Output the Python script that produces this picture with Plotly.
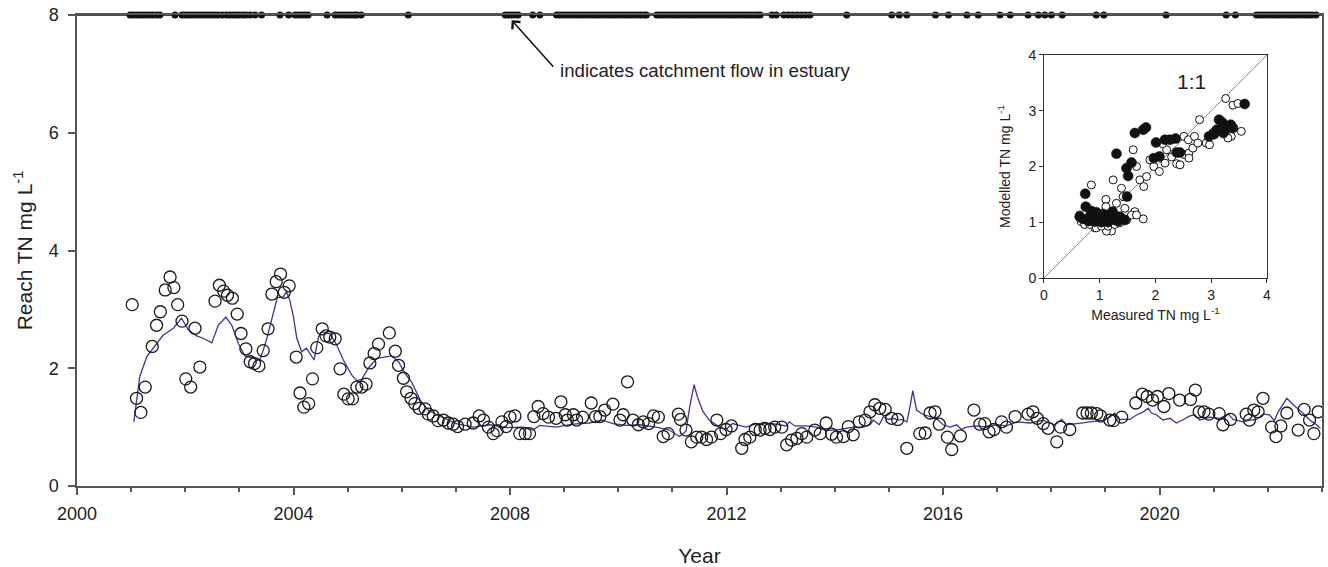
import plotly.graph_objects as go

# ---------------- data ----------------
flow_dates = [
    2000.98, 2001.04, 2001.10, 2001.16, 2001.22, 2001.28, 2001.34, 2001.40, 2001.47, 2001.53,
    2001.81,
    2001.94, 2002.00, 2002.06, 2002.12, 2002.18, 2002.24, 2002.30, 2002.36, 2002.42, 2002.48,
    2002.54, 2002.60, 2002.68,
    2002.76, 2002.82, 2002.88, 2002.94, 2003.00, 2003.06, 2003.12, 2003.20,
    2003.29, 2003.41, 2003.75,
    2003.91, 2004.03, 2004.09, 2004.15, 2004.21, 2004.27,
    2004.62,
    2004.77, 2004.83, 2004.89, 2004.95, 2005.01, 2005.07, 2005.13, 2005.17,
    2005.25, 2006.12,
    2007.91, 2007.97, 2008.03, 2008.09, 2008.15,
    2008.42, 2008.55,
    2008.86, 2008.92, 2008.98, 2009.04, 2009.10, 2009.16, 2009.22, 2009.28, 2009.34, 2009.40,
    2009.46, 2009.52, 2009.58, 2009.64, 2009.70, 2009.76, 2009.82, 2009.88, 2009.94, 2010.00,
    2010.06, 2010.12, 2010.18, 2010.24, 2010.30, 2010.36, 2010.42, 2010.48, 2010.52,
    2010.71, 2010.77, 2010.83, 2010.89, 2010.95, 2011.01, 2011.07, 2011.13, 2011.19, 2011.25,
    2011.31, 2011.37, 2011.43, 2011.49, 2011.55, 2011.61, 2011.67, 2011.73, 2011.79, 2011.85,
    2011.91, 2011.97, 2012.03, 2012.09, 2012.15, 2012.21, 2012.27, 2012.33, 2012.39, 2012.45,
    2012.51, 2012.57, 2012.62,
    2012.84, 2012.92, 2013.06, 2013.14, 2013.22, 2013.30, 2013.38, 2013.46, 2013.54,
    2014.22,
    2015.05, 2015.19, 2015.33,
    2015.86, 2016.10,
    2016.44, 2016.65,
    2017.05, 2017.24,
    2017.57,
    2017.76, 2017.88, 2018.00, 2018.20,
    2018.83, 2018.97,
    2020.12,
    2021.23, 2021.40,
    2021.79, 2021.85, 2021.91, 2021.97, 2022.03, 2022.09, 2022.15, 2022.21, 2022.27, 2022.33,
    2022.39, 2022.45, 2022.51, 2022.57, 2022.63, 2022.69, 2022.75, 2022.81, 2022.89,
]
flow_level = 8

model_year = [
    2001.05, 2001.16, 2001.29, 2001.44, 2001.59, 2001.78, 2001.93, 2002.06, 2002.21, 2002.33,
    2002.49, 2002.61, 2002.75, 2002.86, 2002.98, 2003.10, 2003.26, 2003.38, 2003.50, 2003.63,
    2003.70, 2003.81, 2003.87, 2003.93, 2004.00, 2004.06, 2004.15, 2004.24, 2004.38, 2004.46,
    2004.52, 2004.67, 2004.80, 2004.92, 2005.08, 2005.17, 2005.26, 2005.38, 2005.54, 2005.81,
    2005.94, 2006.06, 2006.18, 2006.34, 2006.49, 2006.71, 2007.01,
    2007.32, 2007.63, 2007.93, 2008.24, 2008.42, 2008.55, 2008.85, 2009.16, 2009.46, 2009.71,
    2009.90, 2010.14, 2010.39, 2010.70, 2010.94, 2011.13, 2011.25, 2011.32, 2011.40, 2011.46,
    2011.56, 2011.68, 2011.87, 2011.99, 2012.11, 2012.36, 2012.55, 2012.85, 2013.10, 2013.16,
    2013.26, 2013.48, 2013.66, 2013.84, 2014.09, 2014.34, 2014.52,
    2014.65, 2014.71, 2014.82, 2014.90, 2014.99, 2015.08, 2015.17, 2015.23, 2015.33, 2015.39,
    2015.44, 2015.51, 2015.64, 2015.79, 2015.91, 2016.00, 2016.13, 2016.25, 2016.34, 2016.43,
    2016.62, 2016.80, 2016.99, 2017.17, 2017.36, 2017.61, 2017.85, 2017.98, 2018.07, 2018.19,
    2018.28, 2018.47, 2018.71, 2018.96, 2019.08, 2019.17, 2019.24, 2019.45, 2019.58, 2019.70,
    2019.79, 2019.85, 2019.94, 2020.06, 2020.19, 2020.31, 2020.44, 2020.56, 2020.65, 2020.74,
    2020.93, 2021.11, 2021.27, 2021.36, 2021.55, 2021.67, 2021.79, 2021.91, 2022.03, 2022.12,
    2022.19, 2022.25, 2022.35, 2022.47, 2022.59, 2022.68, 2022.77, 2022.87, 2022.97,
]
model_tn = [
    1.09, 1.86, 2.20, 2.39, 2.56, 2.68, 2.85, 2.65, 2.55, 2.51,
    2.43, 2.73, 2.87, 2.73, 2.42, 2.21, 2.17, 2.14, 2.48, 2.93,
    3.20, 3.21, 3.30, 3.16, 2.87, 2.51, 2.28, 2.34, 2.14, 2.53,
    2.62, 2.59, 2.39, 2.14, 1.88, 1.79, 1.81, 2.00, 2.17, 2.21,
    2.11, 1.91, 1.77, 1.46, 1.29, 1.18, 1.06,
    1.00, 1.04, 0.99, 1.00, 0.95, 1.03, 1.00, 1.05, 1.07, 1.12,
    1.06, 1.03, 1.04, 1.00, 0.95, 0.84, 0.93, 1.35, 1.72, 1.52,
    1.27, 1.12, 1.00, 0.96, 1.06, 1.00, 1.06, 1.06, 1.02, 1.09,
    1.02, 1.02, 1.00, 0.94, 0.96, 1.00, 1.00,
    1.04, 1.12, 1.04, 1.18, 1.13, 1.15, 1.12, 1.13, 1.09, 1.35,
    1.62, 1.29, 1.21, 1.17, 1.12, 1.04, 1.00, 1.04, 0.96, 1.00,
    1.02, 1.00, 1.04, 1.02, 1.09, 1.07, 1.12, 1.07, 1.04, 1.13,
    1.04, 1.06, 1.09, 1.12, 1.17, 1.24, 1.13, 1.13, 1.21, 1.26,
    1.32, 1.24, 1.21, 1.12, 1.15, 1.07, 1.13, 1.19, 1.21, 1.12,
    1.17, 1.15, 1.22, 1.13, 1.09, 1.12, 1.13, 1.22, 1.21, 1.11,
    1.26, 1.35, 1.49, 1.38, 1.29, 1.21, 1.12, 1.06, 0.98,
]

obs_year = [
    2001.02, 2001.10, 2001.18, 2001.26, 2001.39, 2001.47, 2001.54, 2001.63, 2001.72, 2001.79,
    2001.86, 2001.94, 2002.01, 2002.10, 2002.18, 2002.27, 2002.55, 2002.63, 2002.71, 2002.78,
    2002.87, 2002.96, 2003.03, 2003.12, 2003.20, 2003.28, 2003.36, 2003.44, 2003.53, 2003.60,
    2003.68, 2003.76, 2003.83, 2003.92, 2004.05, 2004.12, 2004.19, 2004.28, 2004.35, 2004.43,
    2004.53, 2004.60, 2004.67, 2004.77, 2004.86, 2004.93, 2005.01, 2005.09, 2005.17, 2005.26,
    2005.34, 2005.41, 2005.49, 2005.57, 2005.77, 2005.88, 2005.94, 2006.03, 2006.09, 2006.17,
    2006.24, 2006.32, 2006.43, 2006.49, 2006.58, 2006.67, 2006.77, 2006.86, 2006.95, 2007.03,
    2007.17, 2007.32, 2007.43, 2007.51, 2007.60, 2007.69, 2007.76, 2007.85, 2007.93, 2008.00,
    2008.09, 2008.18, 2008.28, 2008.36, 2008.44, 2008.52, 2008.61, 2008.71, 2008.85, 2008.94,
    2009.02, 2009.06, 2009.17, 2009.23, 2009.34, 2009.50, 2009.58, 2009.66, 2009.75, 2009.90,
    2010.03, 2010.09, 2010.17, 2010.27, 2010.37, 2010.46, 2010.56, 2010.65, 2010.74, 2010.83,
    2010.92, 2011.11, 2011.15, 2011.25, 2011.35, 2011.45, 2011.54, 2011.63, 2011.72, 2011.82,
    2011.89, 2011.99, 2012.09, 2012.28, 2012.34, 2012.43, 2012.53, 2012.62, 2012.71, 2012.80,
    2012.89, 2013.02, 2013.11, 2013.20, 2013.30, 2013.39, 2013.48, 2013.63, 2013.73, 2013.84,
    2013.94, 2014.03, 2014.16, 2014.25, 2014.34, 2014.45, 2014.56, 2014.65, 2014.74, 2014.83,
    2014.93, 2015.05, 2015.16, 2015.33, 2015.57, 2015.67, 2015.76, 2015.85, 2015.93, 2016.08,
    2016.16, 2016.32, 2016.57, 2016.68, 2016.77, 2016.85, 2016.94, 2017.08, 2017.17, 2017.33,
    2017.57, 2017.66, 2017.74, 2017.85, 2017.94, 2018.10, 2018.17, 2018.34, 2018.58, 2018.66,
    2018.74, 2018.84, 2018.91, 2019.08, 2019.15, 2019.30, 2019.56, 2019.68, 2019.77, 2019.87,
    2019.96, 2020.08, 2020.17, 2020.37, 2020.57, 2020.66, 2020.73, 2020.82, 2020.91, 2021.10,
    2021.17, 2021.31, 2021.60, 2021.66, 2021.74, 2021.82, 2021.91, 2022.07, 2022.15, 2022.24,
    2022.35, 2022.56, 2022.67, 2022.77, 2022.85, 2022.93,
]
obs_tn = [
    3.08, 1.49, 1.25, 1.68, 2.37, 2.73, 2.96, 3.33, 3.55, 3.37,
    3.08, 2.80, 1.82, 1.68, 2.68, 2.02, 3.14, 3.41, 3.31, 3.24,
    3.19, 2.92, 2.59, 2.33, 2.11, 2.08, 2.04, 2.30, 2.67, 3.26,
    3.47, 3.60, 3.29, 3.40, 2.19, 1.58, 1.34, 1.40, 1.82, 2.35,
    2.67, 2.55, 2.53, 2.50, 1.99, 1.56, 1.48, 1.48, 1.68, 1.68,
    1.73, 2.09, 2.25, 2.41, 2.60, 2.29, 2.05, 1.83, 1.60, 1.49,
    1.40, 1.32, 1.31, 1.22, 1.19, 1.11, 1.12, 1.07, 1.05, 1.01,
    1.05, 1.07, 1.19, 1.12, 1.00, 0.89, 0.94, 1.09, 1.01, 1.17,
    1.19, 0.89, 0.89, 0.89, 1.18, 1.35, 1.23, 1.17, 1.15, 1.43,
    1.21, 1.12, 1.21, 1.12, 1.17, 1.41, 1.18, 1.18, 1.29, 1.39,
    1.12, 1.21, 1.77, 1.12, 1.04, 1.09, 1.06, 1.19, 1.17, 0.84,
    0.89, 1.22, 1.13, 0.95, 0.75, 0.83, 0.83, 0.79, 0.83, 1.12,
    0.89, 0.96, 1.02, 0.64, 0.79, 0.83, 0.96, 0.95, 0.98, 0.96,
    1.00, 1.00, 0.70, 0.78, 0.81, 0.89, 0.83, 0.95, 0.89, 1.07,
    0.88, 0.83, 0.84, 1.01, 0.87, 1.09, 1.12, 1.26, 1.38, 1.32,
    1.30, 1.15, 1.13, 0.64, 0.89, 0.90, 1.24, 1.26, 1.05, 0.83,
    0.62, 0.85, 1.29, 1.05, 1.06, 0.92, 0.96, 1.09, 1.00, 1.18,
    1.22, 1.26, 1.15, 1.06, 0.98, 0.75, 1.00, 0.96, 1.24, 1.24,
    1.24, 1.23, 1.19, 1.12, 1.11, 1.17, 1.41, 1.56, 1.52, 1.46,
    1.52, 1.35, 1.57, 1.46, 1.47, 1.63, 1.26, 1.26, 1.22, 1.23,
    1.04, 1.13, 1.22, 1.12, 1.29, 1.26, 1.49, 1.00, 0.84, 1.02,
    1.24, 0.95, 1.30, 1.12, 0.89, 1.26,
]

# inset: measured vs modelled (open = no catchment flow, filled = catchment flow)
open_measured = [
    0.85, 1.11, 1.00, 0.91, 1.21, 1.12, 1.24, 1.39, 1.60, 1.66, 1.72, 1.79, 1.63, 1.78, 1.45,
    1.84, 1.90, 1.97, 2.07, 2.17, 2.29, 2.38, 2.44, 2.53, 2.60, 2.60, 2.67, 2.51, 2.59, 2.70,
    2.76, 2.79, 2.91, 2.97, 3.03, 3.26, 3.39, 3.36, 3.54, 3.30, 3.48, 2.20, 2.13, 0.67, 0.73,
    0.82, 0.94, 1.03, 1.15, 1.27, 1.36, 1.48, 1.57, 1.11, 1.30, 0.97, 0.64, 1.42, 1.66,
]
open_modelled = [
    1.67, 1.41, 0.99, 0.90, 0.84, 0.84, 1.76, 1.61, 2.30, 2.00, 1.76, 1.64, 1.19, 1.06, 1.25,
    1.82, 2.12, 2.00, 1.91, 2.06, 2.17, 2.05, 2.03, 2.21, 2.24, 2.15, 2.33, 2.54, 2.48, 2.54,
    2.42, 2.84, 2.42, 2.39, 2.61, 3.22, 3.10, 2.54, 2.63, 2.51, 3.13, 2.30, 2.41, 1.01, 0.96,
    0.96, 0.90, 0.93, 0.93, 0.96, 0.99, 1.04, 1.13, 1.28, 1.34, 1.16, 1.13, 1.46, 1.13,
]
filled_measured = [
    0.64, 0.70, 0.75, 0.74, 0.80, 0.82, 0.85, 0.88, 0.91, 0.94, 0.97, 1.00, 1.03, 1.06, 1.09,
    1.12, 1.15, 1.18, 1.21, 1.23, 1.27, 1.30, 1.33, 1.36, 1.40, 1.45, 1.49, 1.30, 1.48, 1.51,
    1.57, 1.63, 1.83, 1.78, 1.97, 2.07, 2.01, 2.17, 2.26, 2.36, 2.44, 2.38, 2.96, 3.05, 3.10,
    3.14, 3.20, 3.22, 3.27, 3.30, 3.35, 3.39, 3.60,
]
filled_modelled = [
    1.10, 1.06, 1.28, 1.51, 1.02, 1.10, 1.20, 1.05, 1.01, 1.18, 1.08, 1.10, 1.00, 1.15, 1.04,
    1.08, 1.00, 1.13, 1.06, 1.19, 1.04, 1.10, 1.02, 1.10, 1.06, 1.04, 1.46, 2.23, 1.97, 1.83,
    2.07, 2.60, 2.70, 2.66, 2.15, 2.18, 2.43, 2.48, 2.48, 2.50, 2.25, 2.25, 2.54, 2.58, 2.66,
    2.84, 2.79, 2.60, 2.72, 2.70, 2.75, 2.69, 3.12,
]
one_to_one = [0, 4]

# ---------------- figure ----------------
FONT = "Liberation Sans, Arial, sans-serif"
TXT = "#222222"
AX = "#555555"

fig = go.Figure()

fig.add_trace(go.Scatter(
    x=[2000, 2023], y=[flow_level, flow_level], mode="lines",
    line=dict(color="#111111", width=1.6), hoverinfo="skip", showlegend=False,
    cliponaxis=False,
))
fig.add_trace(go.Scatter(
    x=flow_dates, y=[flow_level] * len(flow_dates), mode="markers",
    marker=dict(color="#111111", size=7, line=dict(width=0)),
    showlegend=False, cliponaxis=False,
))
fig.add_trace(go.Scatter(
    x=model_year, y=model_tn, mode="lines",
    line=dict(color="#3f3596", width=1.3), showlegend=False,
))
fig.add_trace(go.Scatter(
    x=obs_year, y=obs_tn, mode="markers",
    marker=dict(symbol="circle-open", size=12, color="#1a1a1a", line=dict(width=1.3)),
    showlegend=False,
))

# inset
fig.add_trace(go.Scatter(
    x=one_to_one, y=one_to_one, mode="lines", xaxis="x2", yaxis="y2",
    line=dict(color="#666666", width=0.8), showlegend=False,
))
fig.add_trace(go.Scatter(
    x=open_measured, y=open_modelled, mode="markers", xaxis="x2", yaxis="y2",
    marker=dict(symbol="circle", size=8, color="white", line=dict(color="#111111", width=1)),
    showlegend=False,
))
fig.add_trace(go.Scatter(
    x=filled_measured, y=filled_modelled, mode="markers", xaxis="x2", yaxis="y2",
    marker=dict(symbol="circle", size=10, color="#111111", line=dict(color="#111111", width=0.5)),
    showlegend=False,
))

fig.update_layout(
    width=1328, height=567,
    margin=dict(l=77, r=6, t=15, b=81, autoexpand=False),
    paper_bgcolor="white", plot_bgcolor="white",
    font=dict(family=FONT, color=TXT),
    xaxis=dict(
        domain=[0, 1], range=[2000, 2023], tick0=2000, dtick=4, automargin=False,
        ticks="outside", ticklen=7, tickwidth=1.5, tickcolor=AX,
        showline=True, linecolor=AX, linewidth=1.5, mirror=True,
        showgrid=False, zeroline=False,
        tickfont=dict(size=18, family=FONT, color=TXT), ticklabelstandoff=4,
        minor=dict(dtick=1, tick0=2000, ticks="outside", ticklen=4, tickwidth=1.5,
                   tickcolor=AX, showgrid=False),
        title=dict(text="Year", font=dict(size=21, family=FONT, color=TXT), standoff=25),
    ),
    yaxis=dict(
        domain=[0, 1], range=[0, 8], tick0=0, dtick=2, automargin=False,
        ticks="outside", ticklen=7, tickwidth=1.5, tickcolor=AX,
        showline=True, linecolor=AX, linewidth=1.5, mirror=True,
        showgrid=False, zeroline=False,
        tickfont=dict(size=18, family=FONT, color=TXT), ticklabelstandoff=6,
        title=dict(text="Reach TN mg L<sup>-1</sup>", font=dict(size=21, family=FONT, color=TXT),
                   standoff=10),
    ),
    xaxis2=dict(
        domain=[0.7767, 0.9558], anchor="y2", range=[0, 4], dtick=1, automargin=False,
        ticks="outside", ticklen=4, tickwidth=1, tickcolor="#333333",
        showline=True, linecolor="#333333", linewidth=1, mirror=True,
        showgrid=False, zeroline=False,
        tickfont=dict(size=14, family=FONT, color=TXT),
        title=dict(text="Measured TN mg L<sup>-1</sup>", font=dict(size=14, family=FONT, color=TXT),
                   standoff=8),
    ),
    yaxis2=dict(
        domain=[0.4416, 0.9151], anchor="x2", range=[0, 4], dtick=1, automargin=False,
        ticks="outside", ticklen=4, tickwidth=1, tickcolor="#333333",
        showline=True, linecolor="#333333", linewidth=1, mirror=True,
        showgrid=False, zeroline=False,
        tickfont=dict(size=14, family=FONT, color=TXT),
        title=dict(text="Modelled TN mg L<sup>-1</sup>", font=dict(size=14, family=FONT, color=TXT),
                   standoff=14),
    ),
    annotations=[
        dict(x=2008.03, y=7.91, xref="x", yref="y", text="", showarrow=True,
             ax=43, ay=48, arrowhead=4, arrowsize=1.4, arrowwidth=1.5, arrowcolor="#111111"),
        dict(x=2008.886, y=7.06, xref="x", yref="y", text="indicates catchment flow in estuary",
             showarrow=False, xanchor="left", yanchor="middle",
             font=dict(size=18.7, family=FONT, color=TXT)),
        dict(x=2.64, y=3.52, xref="x2", yref="y2", text="1:1", showarrow=False,
             font=dict(size=21, family=FONT, color=TXT)),
    ],
)

fig.write_html(
    "out.html",
    config={"displayModeBar": False},
    post_script="document.body.style.margin='0';document.body.style.overflow='hidden';",
)
